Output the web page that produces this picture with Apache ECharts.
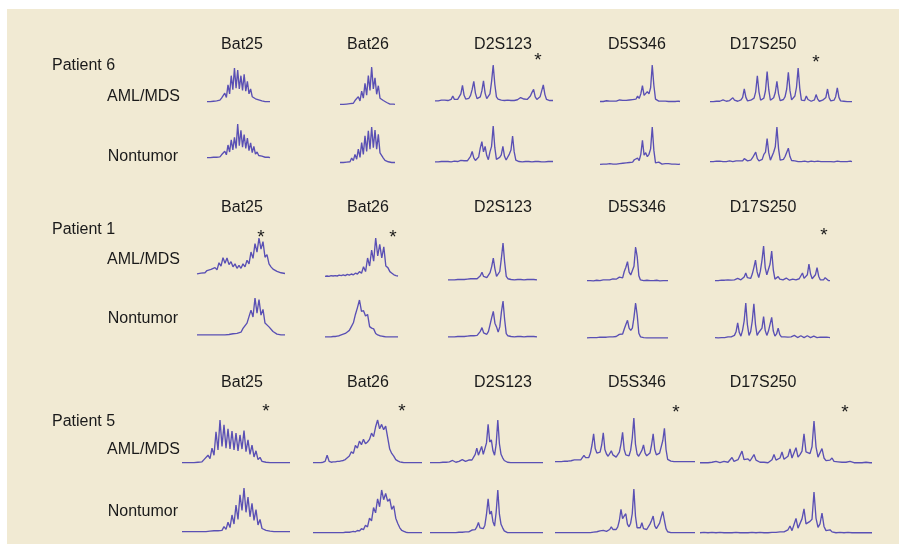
<!DOCTYPE html>
<html>
<head>
	<meta charset="utf-8">
	<title></title>
</head>
<body style="margin: 0; background: #fff">
<div id="container" style="width: 899px; height: 554px"></div>

<script src="https://cdn.jsdelivr.net/npm/echarts@6/dist/echarts.min.js"></script>

<script type="text/javascript">
	// labels
	var markers = ['Bat25', 'Bat26', 'D2S123', 'D5S346', 'D17S250'];
	var patients = ['Patient 6', 'Patient 1', 'Patient 5'];
	var tissues = ['AML/MDS', 'Nontumor'];

	// traces (relative signal, 0-100)
	// patient 6
	var b25_6a = [4,5,4,6,5,7,6,9,8,14,10,28,16,52,26,78,38,100,42,94,40,78,36,82,34,62,26,40,18,22,12,12,9,8,6,5,4,5,4,4];
	var b26_6a = [4,5,4,6,5,7,6,9,7,14,9,24,13,38,20,58,28,78,40,100,44,72,30,52,20,22,14,12,9,6,5,4,5,4];
	var d2_6a = [3,4,3,4,5,10,5,4,4,5,7,16,7,5,7,12,22,45,18,8,7,10,18,34,56,24,9,8,14,30,57,24,9,10,22,55,100,48,14,8,6,5,5,4,4,5,4,4,5,4,5,6,8,12,16,8,6,7,10,16,26,34,14,7,8,14,30,46,20,7,5,4,4,4];
	var d5_6a = [4,5,4,5,6,4,5,6,5,7,5,6,8,6,7,9,7,10,8,12,9,14,10,18,12,24,46,20,16,30,24,40,100,46,10,6,5,6,5,4,5,6,4,5,4,5,4,4,5,4];
	var d17_6a = [4,5,4,4,5,6,5,6,9,6,5,5,7,8,15,8,5,5,6,9,16,40,16,6,5,8,12,14,32,78,32,8,8,14,35,90,38,8,9,15,30,62,26,7,8,10,18,40,88,36,9,10,20,45,100,42,8,5,7,20,10,5,5,6,9,24,11,5,6,8,8,16,40,15,6,5,8,18,43,16,6,4,5,4,4,5,4,4];
	var b25_6n = [4,5,4,6,5,6,5,8,6,12,8,22,12,40,20,55,26,62,30,100,38,82,34,70,30,60,24,46,18,36,14,20,10,12,8,6,5,4,5,4];
	var b26_6n = [4,5,4,6,5,9,6,16,9,26,13,40,18,58,26,76,34,90,40,100,44,92,40,80,30,34,16,10,8,6,5,4,5,4];
	var d2_6n = [3,4,3,4,4,3,4,5,4,4,3,4,5,4,4,5,7,10,6,5,6,10,18,31,14,7,8,16,40,58,30,45,20,9,30,45,100,42,10,8,15,22,45,18,8,10,24,35,73,30,8,5,4,4,3,4,4,3,4,4,3,4,4,3,4,4,3,4,3,4,4,3,4,4];
	var d5_6n = [4,3,5,4,5,4,6,4,5,6,5,7,6,8,7,9,8,12,9,14,10,16,12,20,14,30,66,28,34,24,30,44,100,40,8,6,10,7,5,8,6,5,6,7,5,4,5,4,4,5];
	var d17_6n = [4,5,4,4,5,4,5,4,4,5,4,5,6,5,4,5,6,5,6,7,6,12,7,6,6,8,14,14,30,12,6,7,10,24,30,68,28,8,10,30,45,100,40,8,6,10,18,20,41,18,7,5,6,5,4,5,4,4,5,4,3,4,5,4,4,3,5,4,4,5,4,3,4,5,4,4,3,4,5,4,4,5,4,3,4,4,5,4];
	// patient 1
	var b25_1a = [3,8,5,10,6,12,8,15,10,20,14,33,24,47,32,46,28,36,22,30,18,26,18,30,22,40,30,62,45,85,62,100,70,90,48,55,30,22,16,15,10,8,6,5,4];
	var b26_1a = [4,5,4,6,5,6,5,7,6,8,6,9,7,10,8,12,10,16,12,28,16,50,30,70,42,100,55,84,50,78,30,26,16,12,8,6,5];
	var d2_1a = [3,4,3,4,3,4,4,3,4,5,4,5,5,6,6,9,6,5,6,9,14,23,12,8,9,12,22,38,60,32,12,10,25,60,100,50,12,6,5,4,4,3,4,4,3,4,4,3,4,4,3,4,3,4,4,3];
	var d5_1a = [4,3,4,4,3,4,5,4,4,5,6,9,6,5,6,7,9,12,8,10,14,9,12,30,42,58,28,20,18,45,100,72,18,6,5,4,4,5,4,4,3,4,4,5,4,3,4,4,3,4,4];
	var d17_1a = [4,5,4,4,5,4,5,4,6,8,5,5,6,7,10,6,6,9,14,25,12,8,10,22,40,61,28,12,30,60,100,40,20,22,50,86,34,8,6,15,8,5,6,7,11,7,5,6,8,12,6,6,9,14,25,10,8,20,50,22,9,14,20,40,16,6,5,6,12,7,4,4];
	var b25_1n = [3,3,3,3,3,3,3,3,3,3,3,3,3,3,3,4,4,5,6,8,7,12,10,20,16,34,30,68,50,100,60,96,55,70,34,30,24,22,12,10,5,4,3,3,3];
	var b26_1n = [3,3,3,3,4,4,5,6,8,10,12,16,20,30,40,62,80,100,70,72,58,62,30,26,24,12,8,6,5,4,3,3,3,3,3,3,3];
	var d2_1n = [3,4,3,4,3,4,4,3,4,5,4,5,5,6,6,9,6,5,7,12,18,28,14,9,10,18,36,55,72,40,30,16,30,70,100,50,12,6,5,4,4,3,4,4,3,4,4,3,4,4,3,4,3,4,4,3];
	var d5_1n = [3,3,4,3,4,3,4,4,5,4,5,4,5,6,6,8,6,9,7,10,13,10,14,28,40,52,30,24,30,60,100,66,16,6,4,4,3,3,3,3,3,3,3,3,3,3,3,3,3,3,3];
	var d17_1n = [4,4,3,4,4,5,4,5,6,9,6,5,10,20,45,18,8,24,50,100,40,10,20,50,98,40,10,18,14,30,62,24,10,22,26,60,22,8,14,30,12,6,5,6,9,5,5,6,5,10,5,4,6,9,5,4,6,9,5,4,6,8,5,4,7,5,4,5,7,5,4,4];
	// patient 5
	var b25_5a = [3,3,3,3,3,4,3,4,4,6,5,10,7,20,12,36,20,73,32,100,40,89,36,80,34,75,32,70,30,66,34,76,28,55,22,43,16,30,10,15,6,7,4,3,3,3,3,3,3,3,3,3,3,3,3];
	var b26_5a = [3,3,3,3,3,4,6,20,6,4,5,5,6,6,7,8,10,14,18,28,24,42,36,52,44,56,46,50,56,70,62,84,100,80,90,78,86,60,34,24,18,10,7,5,4,3,3,3,3,3,3,3,3,3,3];
	var d2_5a = [3,3,3,3,3,3,3,3,4,3,4,4,5,5,8,5,4,5,6,7,10,7,6,7,9,13,9,12,22,36,20,24,40,22,18,48,90,50,55,30,20,45,100,46,22,14,8,5,4,3,3,3,3,3,3,3,3,3,3,3,3,3,3,3,3,3,3,3,3,3,3];
	var d5_5a = [3,3,3,3,3,3,4,3,4,4,5,6,7,9,7,6,7,10,17,12,10,12,22,40,65,32,22,20,24,40,67,30,20,15,16,27,18,14,13,16,24,42,68,30,18,14,16,28,55,100,42,20,15,18,28,40,22,16,16,22,40,65,30,18,17,22,24,50,77,30,8,5,4,3,3,3,3,3,3,3,3,3,3,3,3,3,3,3];
	var d17_5a = [3,3,3,5,3,3,4,3,6,4,3,4,6,4,4,6,15,6,5,10,14,30,10,8,12,7,10,22,9,5,4,6,4,4,3,4,10,22,9,8,14,28,11,10,18,35,14,16,38,16,22,30,70,28,30,24,40,100,40,16,20,36,14,8,6,9,14,6,5,5,8,4,3,4,4,6,3,3,4,3,4,3,3,4,3,3,3];
	var b25_5n = [3,3,3,3,3,3,3,3,3,4,3,4,3,4,4,5,5,6,5,9,6,14,8,24,12,40,20,62,30,85,50,100,46,80,36,66,28,52,18,30,10,12,6,6,4,3,3,3,3,3,3,3,3,3,3];
	var b26_5n = [3,3,3,3,3,3,3,3,3,3,3,3,3,3,3,3,4,4,4,5,6,5,8,7,12,10,20,16,36,30,60,48,80,62,100,78,92,74,80,56,64,36,24,14,8,6,4,3,3,3,3,3,3,3,3];
	var d2_5n = [3,3,3,3,3,3,3,3,3,3,3,3,3,3,3,3,3,3,4,3,4,4,5,7,5,6,9,7,10,16,26,14,18,12,20,45,80,45,52,28,18,50,100,45,22,14,7,4,3,3,3,3,3,3,3,3,3,3,3,3,3,3,3,3,3,3,3,3,3,3,3];
	var d5_5n = [3,3,3,3,3,3,3,3,3,3,3,3,3,3,3,3,3,3,3,3,3,4,3,4,4,4,5,5,7,5,8,6,6,8,10,16,10,8,10,16,30,55,34,40,45,22,16,24,45,100,40,14,10,14,25,12,10,10,14,22,30,40,18,12,14,24,38,50,30,12,5,4,3,3,3,3,3,3,3,3,3,3,3,3,3,3,3,3];
	var d17_5n = [3,3,4,3,3,3,4,3,3,3,4,3,3,4,3,3,3,3,4,3,3,3,3,4,3,3,4,3,3,3,4,3,3,4,3,4,4,6,4,4,5,9,5,6,10,19,8,12,37,14,16,36,60,24,20,30,35,100,38,16,24,50,18,8,6,10,5,4,3,3,4,3,3,3,4,3,3,4,3,3,3,4,3,3,3,4,3];

	var traces = [
		b25_6a, b26_6a, d2_6a, d5_6a, d17_6a,
		b25_6n, b26_6n, d2_6n, d5_6n, d17_6n,
		b25_1a, b26_1a, d2_1a, d5_1a, d17_1a,
		b25_1n, b26_1n, d2_1n, d5_1n, d17_1n,
		b25_5a, b26_5a, d2_5a, d5_5a, d17_5a,
		b25_5n, b26_5n, d2_5n, d5_5n, d17_5n
	];

	// plot boxes on the page: [left, right, top, baseline]
	var boxes = [
		[207,270,68,103],[340,395,67,106],[435,553,65,102],[600,680,65,103],[710,852,68,103],
		[207,270,124,159],[340,395,127,164],[435,553,126,163],[600,680,127,166],[710,852,127,163],
		[197,285,238,275],[325,398,238,278],[448,537,243,281],[587,668,247,282],[715,830,246,282],
		[197,285,298,336],[325,398,300,338],[448,537,301,338],[587,668,303,339],[715,830,303,339],
		[182,290,420,464],[313,422,420,464],[430,543,420,464],[555,695,418,463],[700,872,421,464],
		[182,290,488,533],[313,422,490,534],[430,543,490,534],[555,695,489,534],[700,872,492,534]
	];

	var headerX = [242, 368, 503, 637, 763];
	var headerY = [45, 208, 383];
	var patientY = [66, 230, 422];
	var tissueY = [[97, 157], [260, 319], [450, 512]];
	var stars = [[538,57],[816,59],[261,234],[393,234],[824,232],[266,408],[402,408],[676,409],[845,409]];

	var font = '"Liberation Sans", Arial, sans-serif';
	var dom = document.getElementById('container');
	var myChart = echarts.init(dom, null, {renderer: 'canvas'});

	var grids = [], xAxes = [], yAxes = [], series = [];
	traces.forEach(function (t, i) {
		var b = boxes[i];
		grids.push({left: b[0], top: b[2], width: b[1] - b[0], height: b[3] - b[2]});
		xAxes.push({type: 'value', gridIndex: i, min: 0, max: t.length - 1, show: false});
		yAxes.push({type: 'value', gridIndex: i, min: 0, max: 100, show: false});
		series.push({
			type: 'line',
			xAxisIndex: i,
			yAxisIndex: i,
			symbol: 'none',
			silent: true,
			lineStyle: {color: '#5a50b4', width: 1.35},
			data: t.map(function (v, k) { return [k, v]; })
		});
	});

	var graphic = [{
		type: 'rect', z: -10,
		shape: {x: 7, y: 9, width: 892, height: 535},
		style: {fill: '#f1ead3'}
	}];
	function label(text, x, y, align, size) {
		graphic.push({
			type: 'text', x: x, y: y,
			style: {text: text, fill: '#1a1a1a', font: (size || 16) + 'px ' + font, textAlign: align, textVerticalAlign: 'middle'}
		});
	}
	headerY.forEach(function (y, p) {
		markers.forEach(function (m, c) { label(m, headerX[c], y, 'center'); });
		label(patients[p], 52, patientY[p], 'left');
		label(tissues[0], 180, tissueY[p][0], 'right');
		label(tissues[1], 178, tissueY[p][1], 'right');
	});
	stars.forEach(function (s) { label('*', s[0], s[1] + 4, 'center', 19); });

	var option = {
		animation: false,
		backgroundColor: '#ffffff',
		grid: grids,
		xAxis: xAxes,
		yAxis: yAxes,
		series: series,
		graphic: graphic
	};
	myChart.setOption(option);
	window.addEventListener('resize', myChart.resize);
</script>
</body>
</html>
